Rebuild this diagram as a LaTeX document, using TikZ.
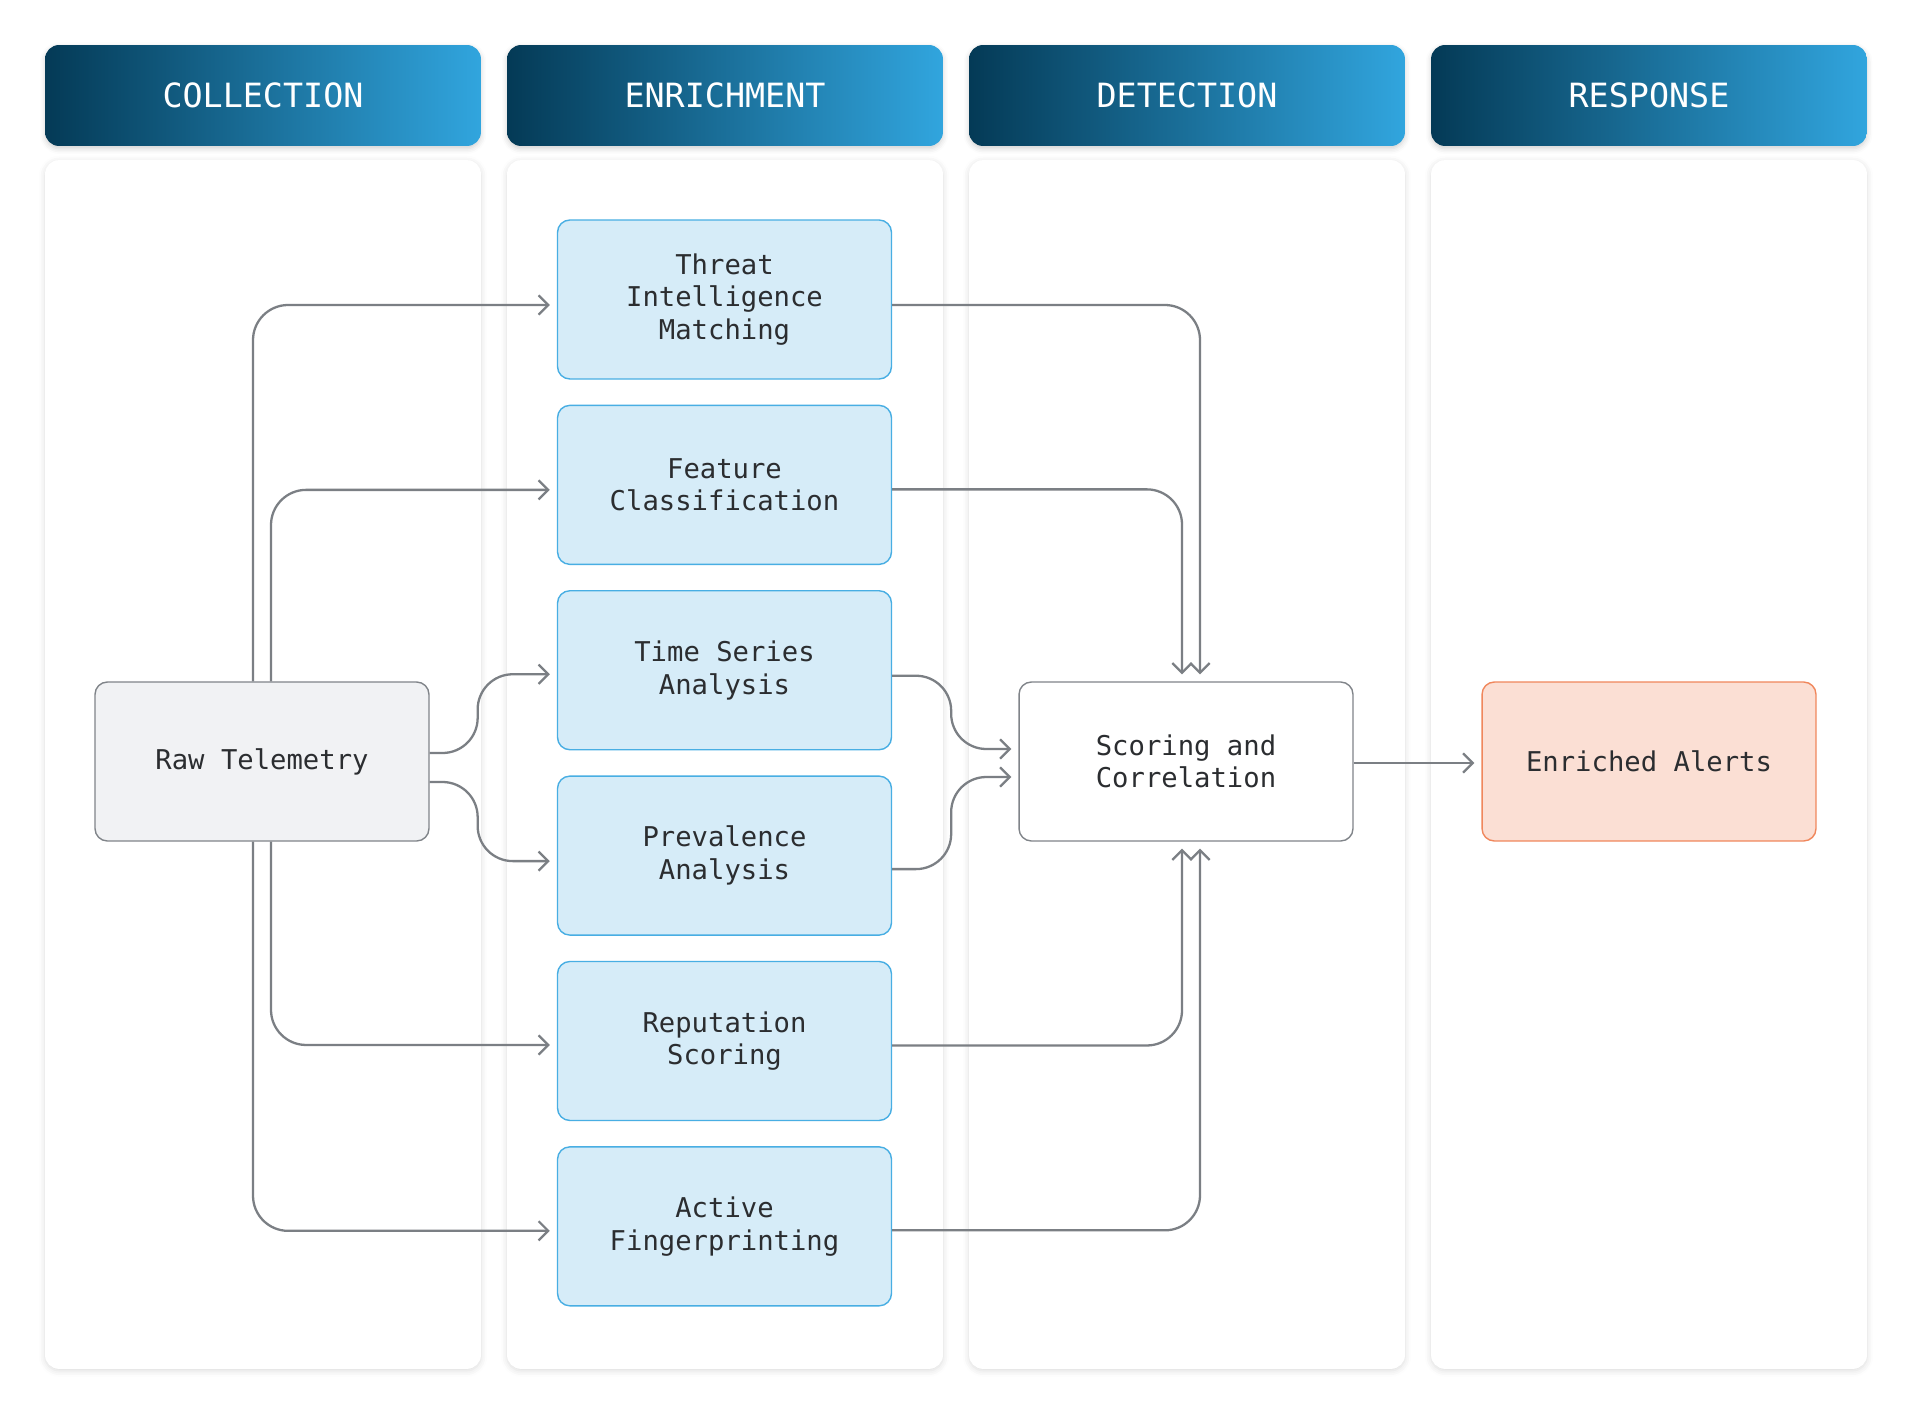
\documentclass[tikz,border=0pt]{standalone}
\usepackage{fontspec}
\setmainfont{DejaVu Sans Mono}
\usetikzlibrary{arrows.meta, positioning, calc, shadows.blur}

\definecolor{navy}{HTML}{043A56}
\definecolor{sky}{HTML}{31A5DE}
\definecolor{wire}{HTML}{7B7F84}
\definecolor{ink}{HTML}{2B2D30}
\definecolor{bluefill}{HTML}{D6ECF8}
\definecolor{blueedge}{HTML}{48AEE3}
\definecolor{greyfill}{HTML}{F1F2F4}
\definecolor{greyedge}{HTML}{808489}
\definecolor{peachfill}{HTML}{FBDFD4}
\definecolor{peachedge}{HTML}{F0875C}

\begin{document}
\begin{tikzpicture}[x=0.02cm, y=-0.02cm, node distance=0.5cm,
    head/.style={rounded corners=8pt, minimum width=8.72cm, minimum height=2.02cm,
      left color=navy, right color=sky, text=white, font=\fontsize{19}{23}\selectfont,
      blur shadow={shadow xshift=0pt, shadow yshift=-1.5pt, shadow blur radius=3pt, shadow opacity=18}},
    lane/.style={rounded corners=8pt, minimum width=8.72cm, minimum height=24.18cm, fill=white,
      blur shadow={shadow xshift=0pt, shadow yshift=-1pt, shadow blur radius=3.5pt, shadow opacity=14}},
    card/.style={rounded corners=7pt, minimum width=6.68cm, minimum height=3.18cm, align=center,
      text=ink, line width=0.8pt, font=\fontsize{15.5}{18.6}\selectfont},
    enr/.style={card, fill=bluefill, draw=blueedge},
    src/.style={card, fill=greyfill, draw=greyedge},
    hub/.style={card, fill=white, draw=greyedge},
    sink/.style={card, fill=peachfill, draw=peachedge},
    flow/.style={draw=wire, line width=1.3pt, rounded corners=20pt, shorten >=0.14cm,
      -{Straight Barb[length=5.5pt, width=11pt]}}]
    \useasboundingbox (0,0) rectangle (1912,1415);

    % swimlanes
    \node[lane] (lcol) at (263,764.5) {};
    \node[lane] (lenr) at (725,764.5) {};
    \node[lane] (ldet) at (1187,764.5) {};
    \node[lane] (lres) at (1649,764.5) {};
    \node[head] (hcol) at (263,95.5) {COLLECTION};
    \node[head] (henr) at (725,95.5) {ENRICHMENT};
    \node[head] (hdet) at (1187,95.5) {DETECTION};
    \node[head] (hres) at (1649,95.5) {RESPONSE};

    % stages
    \node[src] (raw) at (262,761.5) {Raw Telemetry};
    \node[enr] (thr) at (724.5,299.5) {Threat\\Intelligence\\Matching};
    \node[enr] (feat) [below=of thr] {Feature\\Classification};
    \node[enr] (ts) [below=of feat] {Time Series\\Analysis};
    \node[enr] (prev) [below=of ts] {Prevalence\\Analysis};
    \node[enr] (rep) [below=of prev] {Reputation\\Scoring};
    \node[enr] (act) [below=of rep] {Active\\Fingerprinting};
    \node[hub] (score) at (1186,761.5) {Scoring and\\Correlation};
    \node[sink] (alert) at (1649,761.5) {Enriched Alerts};

    % fan out
    \draw[flow] ($(raw.north)+(-9,0)$) |- ($(thr.west)+(0,5.5)$);
    \draw[flow] ($(raw.north)+(9,0)$) |- ($(feat.west)+(0,5)$);
    \draw[flow] ($(raw.east)+(0,-8.5)$) -- ++(48,0) |- ($(ts.west)+(0,4)$);
    \draw[flow] ($(raw.east)+(0,20.5)$) -- ++(48,0) |- ($(prev.west)+(0,5.5)$);
    \draw[flow] ($(raw.south)+(9,0)$) |- ($(rep.west)+(0,4)$);
    \draw[flow] ($(raw.south)+(-9,0)$) |- ($(act.west)+(0,4.5)$);

    % fan in
    \draw[flow] ($(thr.east)+(0,5.5)$) -| ($(score.north)+(14,0)$);
    \draw[flow] ($(feat.east)+(0,4.5)$) -| ($(score.north)+(-4,0)$);
    \draw[flow] ($(ts.east)+(0,5.5)$) -- ++(59,0) |- ($(score.west)+(0,-12.5)$);
    \draw[flow] ($(prev.east)+(0,13.5)$) -- ++(59,0) |- ($(score.west)+(0,15.5)$);
    \draw[flow] ($(rep.east)+(0,4.5)$) -| ($(score.south)+(-4,0)$);
    \draw[flow] ($(act.east)+(0,4)$) -| ($(score.south)+(14,0)$);

    \draw[flow] ($(score.east)+(0,1.5)$) -- ($(alert.west)+(0,1.5)$);
\end{tikzpicture}
\end{document}
